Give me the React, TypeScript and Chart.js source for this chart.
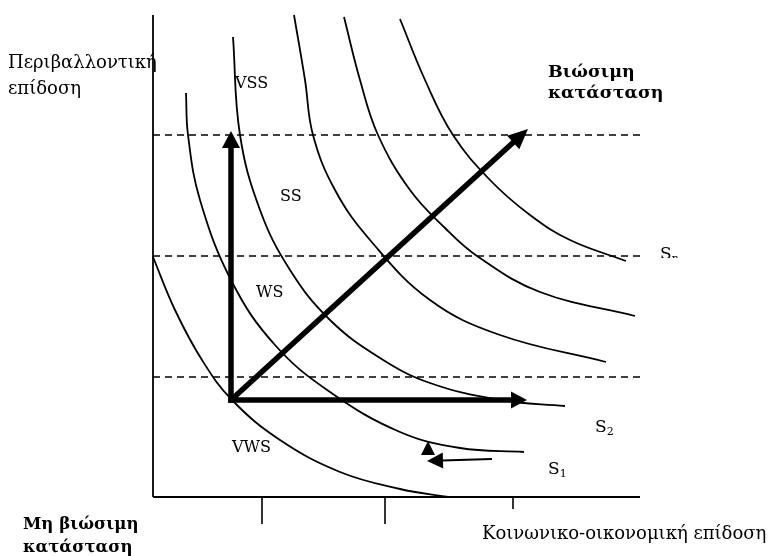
import React, { useEffect, useRef } from "react";
import { Chart, registerables } from "chart.js";

Chart.register(...registerables);

type P = { x: number; y: number };

// Iso-sustainability curves (x: socio-economic performance, y: environmental performance), innermost first
const curve1: P[] = [
  { x: 0, y: 240 }, { x: 22, y: 187 }, { x: 49, y: 137 }, { x: 79, y: 97 },
  { x: 127, y: 57 }, { x: 187, y: 25 }, { x: 247, y: 8 }, { x: 295, y: 0 },
];
const curve2: P[] = [
  { x: 33, y: 404 }, { x: 35, y: 362 }, { x: 47, y: 297 }, { x: 79, y: 215 },
  { x: 122, y: 152 }, { x: 177, y: 105 }, { x: 247, y: 65 }, { x: 307, y: 49 }, { x: 371, y: 45 },
];
const curve3: P[] = [
  { x: 80, y: 460 }, { x: 87, y: 362 }, { x: 107, y: 287 }, { x: 137, y: 227 },
  { x: 177, y: 177 }, { x: 227, y: 139 }, { x: 277, y: 114 }, { x: 347, y: 97 }, { x: 412, y: 91 },
];
const curve4: P[] = [
  { x: 141, y: 482 }, { x: 152, y: 417 }, { x: 160, y: 362 }, { x: 182, y: 307 },
  { x: 217, y: 257 }, { x: 277, y: 197 }, { x: 347, y: 162 }, { x: 453, y: 135 },
];
const curve5: P[] = [
  { x: 191, y: 480 }, { x: 207, y: 417 }, { x: 225, y: 362 }, { x: 257, y: 307 },
  { x: 292, y: 269 }, { x: 324, y: 241 }, { x: 387, y: 205 }, { x: 482, y: 181 },
];
const curve6: P[] = [
  { x: 247, y: 478 }, { x: 272, y: 417 }, { x: 300, y: 362 }, { x: 337, y: 317 },
  { x: 377, y: 282 }, { x: 417, y: 257 }, { x: 473, y: 236 },
];
const curves = [curve1, curve2, curve3, curve4, curve5, curve6];

// Axes frame, thresholds and ticks
const xAxisEnd = 487;
const yAxisEnd = 482;
const dashedLevels = [120, 241, 362];
const tickValues = [109, 232, 360];
const tickDepths = [27, 27, 12];

// Arrows
const arrowOrigin: P = { x: 78, y: 97 };
const arrowTips: P[] = [{ x: 78, y: 366 }, { x: 374, y: 97 }, { x: 375, y: 368 }];
const smallArrowTail: P = { x: 339, y: 38 };
const smallArrowTip: P = { x: 274, y: 36 };
const smallHeadTip: P = { x: 275, y: 56 };

// Texts
const regionLabels = ["VSS", "SS", "WS", "VWS"];
const regionLabelPos: P[] = [{ x: 82, y: 409 }, { x: 127, y: 296 }, { x: 103, y: 200 }, { x: 79, y: 45 }];
const curveLabels = [["S", "n"], ["S", "2"], ["S", "1"]];
const curveLabelPos: P[] = [{ x: 507, y: 238 }, { x: 442, y: 65 }, { x: 395, y: 23 }];
const yTitle = ["Περιβαλλοντική", "επίδοση"];
const xTitle = "Κοινωνικο-οικονομική επίδοση";
const goodTitle = ["Βιώσιμη", "κατάσταση"];
const badTitle = ["Μη βιώσιμη", "κατάσταση"];

const FONT = "'DejaVu Serif', 'Liberation Serif', serif";

const annotationPlugin = {
  id: "diagramAnnotations",
  afterDatasetsDraw(chart: any) {
    const { ctx } = chart;
    const xs = chart.scales.x;
    const ys = chart.scales.y;
    const px = (v: number) => xs.getPixelForValue(v);
    const py = (v: number) => ys.getPixelForValue(v);
    ctx.save();
    ctx.fillStyle = "#000";
    ctx.strokeStyle = "#000";

    const head = (x1: number, y1: number, ang: number, len: number, w: number) => {
      const bx = x1 - Math.cos(ang) * len;
      const by = y1 - Math.sin(ang) * len;
      ctx.beginPath();
      ctx.moveTo(x1, y1);
      ctx.lineTo(bx - Math.sin(ang) * w / 2, by + Math.cos(ang) * w / 2);
      ctx.lineTo(bx + Math.sin(ang) * w / 2, by - Math.cos(ang) * w / 2);
      ctx.closePath();
      ctx.fill();
    };
    const arrow = (a: P, b: P, width: number, len: number, w: number, extendStart: boolean) => {
      let x0 = px(a.x), y0 = py(a.y);
      const x1 = px(b.x), y1 = py(b.y);
      const ang = Math.atan2(y1 - y0, x1 - x0);
      if (extendStart) {
        x0 -= Math.cos(ang) * width / 2;
        y0 -= Math.sin(ang) * width / 2;
      }
      const bx = x1 - Math.cos(ang) * (len - 1);
      const by = y1 - Math.sin(ang) * (len - 1);
      ctx.beginPath();
      ctx.lineCap = "butt";
      ctx.lineWidth = width;
      ctx.moveTo(x0, y0);
      ctx.lineTo(bx, by);
      ctx.stroke();
      head(x1, y1, ang, len, w);
    };

    arrow(arrowOrigin, arrowTips[0], 5.5, 17, 18, true);
    arrow(arrowOrigin, arrowTips[1], 5.5, 16, 17, true);
    arrow(arrowOrigin, arrowTips[2], 5.5, 20, 18, false);
    arrow(smallArrowTail, smallArrowTip, 2, 16, 16, false);
    head(px(smallHeadTip.x), py(smallHeadTip.y), -Math.PI / 2, 14, 14);

    ctx.textBaseline = "alphabetic";
    ctx.textAlign = "left";
    ctx.font = `16px ${FONT}`;
    regionLabels.forEach((t, i) => ctx.fillText(t, px(regionLabelPos[i].x), py(regionLabelPos[i].y)));

    curveLabels.forEach((parts, i) => {
      const x = px(curveLabelPos[i].x);
      const y = py(curveLabelPos[i].y);
      ctx.save();
      if (i === 0) {
        ctx.beginPath();
        ctx.rect(x - 5, y - 30, 40, 29);
        ctx.clip();
      }
      ctx.font = `17px ${FONT}`;
      ctx.fillText(parts[0], x, y);
      const w = ctx.measureText(parts[0]).width;
      ctx.font = `11px ${FONT}`;
      ctx.fillText(parts[1], x + w, y + 3);
      ctx.restore();
    });

    ctx.font = `18px ${FONT}`;
    ctx.fillText(yTitle[0], px(-145), py(429));
    ctx.fillText(yTitle[1], px(-145), py(403));
    ctx.fillText(xTitle, px(329), py(-42));

    ctx.font = `bold 17.5px ${FONT}`;
    ctx.fillText(goodTitle[0], px(395), py(420));
    ctx.fillText(goodTitle[1], px(395), py(399));
    ctx.font = `bold 16.6px ${FONT}`;
    ctx.fillText(badTitle[0], px(-130), py(-32));
    ctx.fillText(badTitle[1], px(-130), py(-55));
    ctx.restore();
  },
};

export default function App() {
  const ref = useRef<HTMLCanvasElement>(null);
  useEffect(() => {
    if (!ref.current) return;
    const line = (data: P[], extra: any = {}) => ({
      data,
      borderColor: "#000",
      borderWidth: 1.6,
      pointRadius: 0,
      fill: false,
      tension: 0,
      ...extra,
    });
    const datasets: any[] = [];
    datasets.push(line([{ x: 0, y: 0 }, { x: 0, y: yAxisEnd }], { borderWidth: 1.8 }));
    datasets.push(line([{ x: 0, y: 0 }, { x: xAxisEnd, y: 0 }], { borderWidth: 1.8 }));
    tickValues.forEach((t, i) => datasets.push(line([{ x: t, y: 0 }, { x: t, y: -tickDepths[i] }], { borderWidth: 1.6 })));
    dashedLevels.forEach((lv) => datasets.push(line([{ x: 0, y: lv }, { x: xAxisEnd, y: lv }], { borderWidth: 1.3, borderDash: [7, 5] })));
    curves.forEach((c) => datasets.push(line(c, { borderWidth: 1.8, tension: 0.4 })));

    const chart = new Chart(ref.current, {
      type: "line",
      data: { datasets },
      options: {
        animation: false,
        responsive: true,
        maintainAspectRatio: false,
        layout: { padding: 0 },
        parsing: true,
        plugins: { legend: { display: false }, tooltip: { enabled: false } },
        scales: {
          x: { type: "linear", min: -153, max: 622, display: false },
          y: { type: "linear", min: -59, max: 497, display: false },
        },
      },
      plugins: [annotationPlugin],
    } as any);
    return () => chart.destroy();
  }, []);
  return (
    <div style={{ position: "absolute", left: 0, top: 0, width: 775, height: 556, background: "#fff" }}>
      <canvas ref={ref} />
    </div>
  );
}
